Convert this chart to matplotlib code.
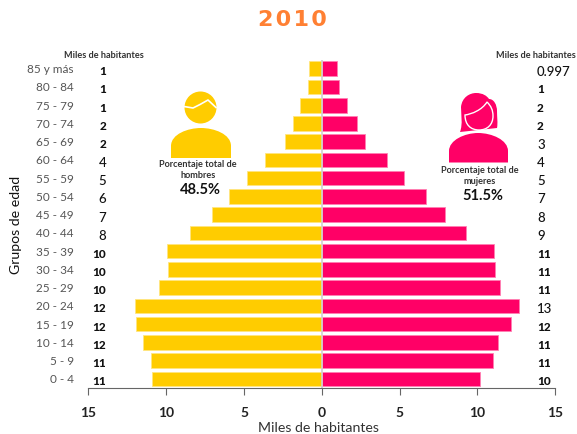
import matplotlib
matplotlib.use("Agg")
import matplotlib.pyplot as plt
from matplotlib.patches import Circle, PathPatch
from matplotlib.path import Path

plt.rcParams['font.family'] = ['Lato', 'DejaVu Sans']

edades = ["0 - 4", "5 - 9", "10 - 14", "15 - 19", "20 - 24", "25 - 29", "30 - 34", "35 - 39", "40 - 44",
          "45 - 49", "50 - 54", "55 - 59", "60 - 64", "65 - 69", "70 - 74", "75 - 79", "80 - 84", "85 y más"]
hombres = [10.9, 11.0, 11.5, 11.93, 12.03, 10.47, 9.89, 9.96, 8.44,
           7.05, 5.95, 4.78, 3.64, 2.36, 1.88, 1.37, 0.9, 0.81]
mujeres = [10.19, 11.0, 11.35, 12.14, 12.7, 11.43, 11.15, 11.09, 9.25,
           7.92, 6.7, 5.3, 4.17, 2.8, 2.25, 1.63, 1.11, 1.0]
etiq_hombres = ["11", "11", "12", "12", "12", "10", "10", "10", "8", "7", "6", "5", "4", "2", "2", "1", "1", "1"]
etiq_mujeres = ["10", "11", "11", "12", "13", "11", "11", "11", "9", "8", "7", "5", "4", "3", "2", "2", "1", "0.997"]
ticks = [-15, -10, -5, 0, 5, 10, 15]
tick_labels = ["15", "10", "5", "0", "5", "10", "15"]

AMARILLO = "#FFCC00"
ROSA = "#FF0066"
W, H = 577, 435


def estilo_num(txt):
    # los digitos altos se ven mas grandes y menos gruesos en el original
    if any(c in txt for c in "3456789"):
        return {"fontsize": 9.5, "fontweight": "medium"}
    return {"fontsize": 8.5, "fontweight": "black"}


def forma(ax, verts, codes, color, **kw):
    ax.add_patch(PathPatch(Path(verts, codes), facecolor=color, edgecolor=kw.get("ec", "none"), lw=kw.get("lw", 0)))


fig = plt.figure(figsize=(W / 100, H / 100), dpi=100)
ax = fig.add_axes([88.3 / W, 1 - 389 / H, (555.3 - 88.3) / W, (389 - 60.6) / H])

y = list(range(len(edades)))
ax.barh(y, [-v for v in hombres], height=0.8, color=AMARILLO, edgecolor="#FFE680", linewidth=0.6)
ax.barh(y, mujeres, height=0.8, color=ROSA, edgecolor="#FF80B3", linewidth=0.6)
ax.axvline(0, color="#D0D0D0", linewidth=1.2)

ax.set_xlim(-15, 15)
ax.set_ylim(-0.5, 17.5)
ax.set_xticks(ticks)
ax.set_xticklabels(tick_labels, fontsize=10, fontweight="bold", color="#222222")
ax.set_yticks([])
ax.tick_params(axis="x", length=5, width=0.8, color="#666666", pad=8)
for s in ["top", "left", "right"]:
    ax.spines[s].set_visible(False)
ax.spines["bottom"].set_color("#666666")

# etiquetas por grupo de edad
for i in y:
    ax.annotate(edades[i], (0, i), xycoords=("axes fraction", "data"), xytext=(-14.5, 0), textcoords="offset pixels",
                ha="right", va="center", fontsize=8.5, color="#555555")
    ax.annotate(etiq_hombres[i], (0, i), xycoords=("axes fraction", "data"), xytext=(18, -2), textcoords="offset pixels",
                ha="right", va="center", color="#111111", **estilo_num(etiq_hombres[i]))
    ax.annotate(etiq_mujeres[i], (1, i), xycoords=("axes fraction", "data"), xytext=(-18.3, -2), textcoords="offset pixels",
                ha="left", va="center", color="#111111", **estilo_num(etiq_mujeres[i]))

# capa en pixeles para textos sueltos e iconos
ov = fig.add_axes([0, 0, 1, 1], facecolor="none")
ov.set_xlim(0, W)
ov.set_ylim(H, 0)
ov.axis("off")

ov.text(292, 20, "2\u200a0\u200a1\u200a0", ha="center", va="center", fontsize=16, fontweight="bold",
        color="#FF8033", family="DejaVu Sans")
ov.text(104, 55.7, "Miles de habitantes", ha="center", va="center", fontsize=6.6, fontweight="bold", color="#333333")
ov.text(536, 55.7, "Miles de habitantes", ha="center", va="center", fontsize=6.6, fontweight="bold", color="#333333")
ov.text(16, 225, "Grupos de edad", ha="center", va="center", rotation=90, fontsize=10.2, color="#111111")
ov.text(318, 428, "Miles de habitantes", ha="center", va="center", fontsize=10.2, color="#333333")

ov.text(198, 165, "Porcentaje total de", ha="center", va="center", fontsize=6.6, fontweight="bold", color="#333333")
ov.text(198, 176, "hombres", ha="center", va="center", fontsize=6.6, fontweight="bold", color="#333333")
ov.text(200, 190, "48.5%", ha="center", va="center", fontsize=10.5, fontweight="bold", color="#111111")
ov.text(480, 171, "Porcentaje total de", ha="center", va="center", fontsize=6.6, fontweight="bold", color="#333333")
ov.text(480, 182, "mujeres", ha="center", va="center", fontsize=6.6, fontweight="bold", color="#333333")
ov.text(482.5, 196, "51.5%", ha="center", va="center", fontsize=10.5, fontweight="bold", color="#111111")

M, L, C, Z = Path.MOVETO, Path.LINETO, Path.CURVE4, Path.CLOSEPOLY

# icono hombre
ov.add_patch(Circle((200.5, 108.5), 16, color=AMARILLO, lw=0))
ov.plot([184, 193, 200, 208, 216], [107.5, 109, 105.5, 101, 108.5], color="white", lw=1.2)
forma(ov, [(171, 159), (171, 147), (171, 135), (188, 129), (201, 129), (214, 129), (231, 135), (231, 147), (231, 159), (171, 159)],
      [M, L, C, C, C, C, C, C, L, Z], AMARILLO)

# icono mujer
forma(ov, [(460, 133), (463, 125), (461, 115), (461, 108), (462, 98), (470, 94), (476, 94), (483, 94), (487, 97), (489, 100),
           (494, 100), (497, 106), (497, 112), (497, 118), (498, 124), (497, 129), (460, 133)],
      [M, C, C, C, C, C, C, C, C, C, C, C, C, C, C, C, Z], ROSA)
forma(ov, [(465, 116), (472, 115), (482, 111), (487, 103), (491, 107), (493, 111), (493, 117),
           (493, 126), (487, 131), (479, 131), (471, 131), (465, 126), (465, 116), (465, 116)],
      [M, C, C, C, C, C, C, C, C, C, C, C, C, Z], ROSA, ec="white", lw=1.0)
forma(ov, [(449, 163.5), (449, 152), (449, 141), (465, 134), (478, 134), (492, 134), (508, 141), (508, 152), (508, 163.5), (449, 163.5)],
      [M, L, C, C, C, C, C, C, L, Z], ROSA)

fig.savefig("out.png", dpi=100)
